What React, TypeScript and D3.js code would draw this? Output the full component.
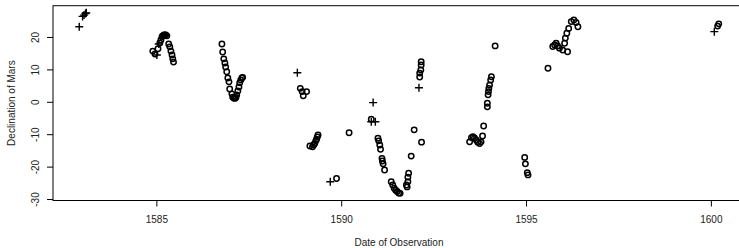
import * as d3 from "d3";

// Tycho Brahe's observations of Mars: [date (decimal year), declination (deg)]
const observedCircle: [number, number][] = [
  [1584.89, 15.8], [1584.95, 14.9], [1585.03, 16.5], [1585.08, 18.3], [1585.11, 19.2],
  [1585.14, 20.2], [1585.16, 20.5], [1585.19, 20.8], [1585.22, 20.8], [1585.24, 20.8],
  [1585.27, 20.5], [1585.32, 18.0], [1585.35, 17.1], [1585.38, 15.8], [1585.41, 14.6],
  [1585.43, 13.4], [1585.45, 12.4],
  [1586.76, 18.0], [1586.78, 15.5], [1586.81, 13.4], [1586.84, 12.1], [1586.86, 10.9],
  [1586.89, 9.4], [1586.92, 7.5], [1586.95, 6.3], [1586.97, 4.1], [1587.03, 2.6],
  [1587.05, 1.6], [1587.08, 1.3], [1587.11, 1.2], [1587.14, 1.5], [1587.16, 2.3],
  [1587.19, 3.5], [1587.22, 4.7], [1587.24, 6.0], [1587.27, 6.9], [1587.3, 7.5],
  [1587.32, 7.7],
  [1588.88, 4.3], [1588.93, 3.3], [1588.96, 2.0], [1589.05, 3.3],
  [1589.14, -13.5], [1589.21, -13.7], [1589.24, -13.2], [1589.27, -12.7], [1589.3, -11.9],
  [1589.32, -11.4], [1589.34, -10.7], [1589.36, -10.1],
  [1589.86, -23.5], [1590.2, -9.4], [1590.8, -5.2],
  [1590.98, -11.1], [1591.0, -11.9], [1591.03, -13.2], [1591.05, -14.5], [1591.09, -17.3],
  [1591.1, -18.1], [1591.12, -19.0], [1591.16, -20.9],
  [1591.34, -24.5], [1591.38, -25.5], [1591.42, -26.5], [1591.46, -27.1], [1591.5, -27.5],
  [1591.54, -28.0], [1591.58, -28.1],
  [1591.75, -25.5], [1591.77, -26.1], [1591.79, -24.5], [1591.79, -23.1], [1591.81, -21.9],
  [1591.88, -16.6], [1591.96, -8.5], [1592.16, -12.3],
  [1592.11, 7.8], [1592.11, 9.0], [1592.14, 10.0], [1592.15, 11.5], [1592.15, 12.5],
  [1593.46, -12.2], [1593.51, -10.9], [1593.55, -10.6], [1593.59, -11.0], [1593.64, -11.6],
  [1593.68, -12.3], [1593.73, -12.7], [1593.77, -12.2], [1593.81, -10.4], [1593.84, -7.3],
  [1593.94, -1.4], [1593.94, -0.3], [1593.96, 2.3], [1593.97, 3.3], [1593.98, 4.3],
  [1594.0, 5.3], [1594.03, 6.9], [1594.05, 7.9], [1594.15, 17.4],
  [1594.95, -17.0], [1594.97, -19.0], [1595.02, -21.7], [1595.04, -22.4],
  [1595.58, 10.5], [1595.71, 17.2], [1595.76, 17.7], [1595.8, 18.2], [1595.84, 17.4],
  [1595.89, 16.7], [1595.98, 16.1], [1596.11, 15.6], [1596.03, 18.2], [1596.05, 19.8],
  [1596.09, 21.3], [1596.14, 22.8], [1596.21, 24.9], [1596.28, 25.4], [1596.34, 24.6],
  [1596.39, 23.3],
  [1600.17, 23.5], [1600.2, 24.2],
];

const observedPlus: [number, number][] = [
  [1582.9, 23.3], [1582.99, 26.5], [1583.03, 26.9], [1583.07, 27.4], [1583.09, 27.6],
  [1585.0, 14.6], [1585.05, 18.0], [1588.8, 9.1], [1589.69, -24.5], [1590.85, -0.1],
  [1590.8, -6.0], [1590.91, -6.0], [1592.09, 4.5], [1600.08, 21.8],
];

const xTicks = [1585, 1590, 1595, 1600];
const yTicks = [-30, -20, -10, 0, 10, 20];

const width = 739;
const height = 248;
const plot = { left: 53, top: 5.7, right: 745, bottom: 200.5 };

export default function App() {
  const x = d3.scaleLinear().domain([1582.19, 1600.91]).range([plot.left, plot.right]);
  const y = d3.scaleLinear().domain([-30.3, 29.8]).range([plot.bottom, plot.top]);
  const font = "'Liberation Sans', Arial, Helvetica, sans-serif";
  const plusArm = 4;

  return (
    <div style={{ position: "absolute", left: 0, top: 0 }}>
      <svg width={width} height={height} style={{ display: "block", background: "#fff" }}>
        {/* frame (right side falls outside the picture) */}
        <rect
          x={plot.left}
          y={plot.top}
          width={plot.right - plot.left}
          height={plot.bottom - plot.top}
          fill="none"
          stroke="#000"
          strokeWidth={1}
        />

        {/* x axis */}
        {xTicks.map((t) => (
          <g key={`xt-${t}`} transform={`translate(${x(t)},${plot.bottom})`}>
            <line y2={6} stroke="#000" />
            <text y={22.5} textAnchor="middle" fontSize={10} fontFamily={font} fill="#222">
              {t}
            </text>
          </g>
        ))}

        {/* y axis */}
        {yTicks.map((t) => (
          <g key={`yt-${t}`} transform={`translate(${plot.left},${y(t)})`}>
            <line x2={-6} stroke="#000" />
            <text
              transform="translate(-14,0) rotate(-90)"
              textAnchor="middle"
              fontSize={10}
              fontFamily={font}
              fill="#222"
            >
              {t}
            </text>
          </g>
        ))}

        <text
          x={(plot.left + plot.right) / 2}
          y={245.5}
          textAnchor="middle"
          fontSize={10}
          fontFamily={font}
          fill="#222"
        >
          Date of Observation
        </text>
        <text
          transform={`translate(15,${(plot.top + plot.bottom) / 2}) rotate(-90)`}
          textAnchor="middle"
          fontSize={10}
          fontFamily={font}
          fill="#222"
        >
          Declination of Mars
        </text>

        {/* points */}
        {observedCircle.map(([d, v], i) => (
          <circle
            key={`c-${i}`}
            cx={x(d)}
            cy={y(v)}
            r={2.7}
            fill="none"
            stroke="#000"
            strokeWidth={1.5}
          />
        ))}
        {observedPlus.map(([d, v], i) => (
          <path
            key={`p-${i}`}
            d={`M${x(d) - plusArm},${y(v)}H${x(d) + plusArm}M${x(d)},${y(v) - plusArm}V${y(v) + plusArm}`}
            stroke="#000"
            strokeWidth={1.4}
            fill="none"
          />
        ))}
      </svg>
    </div>
  );
}
